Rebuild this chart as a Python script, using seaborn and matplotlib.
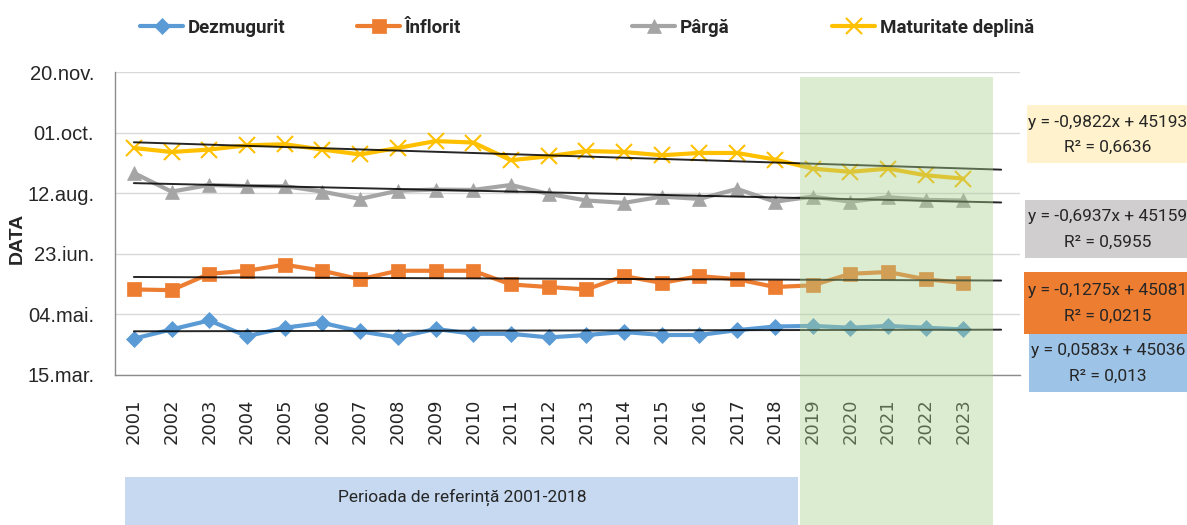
import matplotlib
matplotlib.use('Agg')
import matplotlib.pyplot as plt
import seaborn as sns
import pandas as pd
from matplotlib.patches import Rectangle

# date fenologice (numere seriale Excel, 45000 = 15.mar.)
ani = list(range(2001, 2024))
dezmugurit = [45030, 45037.6, 45045, 45032, 45039, 45043, 45036, 45031, 45038, 45034,
              45034, 45031, 45033, 45035.5, 45033, 45033, 45037, 45040, 45040.5, 45039,
              45040.5, 45039, 45037.6]
inflorit = [45070.6, 45070, 45083.5, 45086, 45091, 45086, 45079, 45086, 45086, 45086,
            45074.7, 45072.6, 45070.6, 45081.6, 45076, 45081.6, 45079, 45072.6, 45074, 45083.5,
            45085, 45079, 45076]
parga = [45166.7, 45151.3, 45156.8, 45155.8, 45155.8, 45151.3, 45145.3, 45152, 45153, 45152.7,
         45156.8, 45149.4, 45144, 45142, 45147.2, 45145.3, 45153.5, 45143, 45147.2, 45143,
         45146.7, 45144.5, 45144]
maturitate = [45187.3, 45184, 45186, 45189.5, 45190.4, 45186, 45182, 45187.3, 45193, 45191.8,
              45177.2, 45180.5, 45184.8, 45184, 45181.3, 45183.2, 45183.2, 45177.8, 45170.3, 45167.6,
              45170.3, 45164.8, 45162]

serii = ['Dezmugurit', 'Înflorit', 'Pârgă', 'Maturitate deplină']
culori = ['#5B9BD5', '#ED7D31', '#A5A5A5', '#FFC000']
markere = ['D', 's', '^', 'x']
marimi_marker = [8, 10, 10, 11]

# ecuatiile liniilor de tendinta (din Excel)
panta = [0.0583, -0.1275, -0.6937, -0.9822]
interceptie = [45036, 45081, 45159, 45193]
r2 = ['0,013', '0,0215', '0,5955', '0,6636']
culori_casete = ['#9DC3E6', '#ED7D31', '#D0CECE', '#FFF2CC']

y_ticks = [45000, 45050, 45100, 45150, 45200, 45250]
y_etichete = ['15.mar.', '04.mai.', '23.iun.', '12.aug.', '01.oct.', '20.nov.']

df = pd.DataFrame({'An': ani, 'Dezmugurit': dezmugurit, 'Înflorit': inflorit,
                   'Pârgă': parga, 'Maturitate deplină': maturitate})

sns.set_style('white')
plt.rcParams['font.family'] = ['DejaVu Sans']
ingust = ['Roboto', 'Liberation Sans', 'DejaVu Sans']

fig = plt.figure(figsize=(11.87, 5.25), dpi=100)
ax = fig.add_axes([115 / 1187, 150 / 525, 905 / 1187, 303 / 525])

handles = []
for nume, c, m, ms in zip(serii, culori, markere, marimi_marker):
    sns.lineplot(data=df, x='An', y=nume, ax=ax, color=c, marker=m, markersize=ms,
                 markeredgecolor=c, markeredgewidth=1.5 if m == 'x' else 0.5,
                 linewidth=3, label=nume, zorder=3)
    handles.append(ax.get_lines()[-1])

# linii de tendinta pe x = 1..24
for a, b in zip(panta, interceptie):
    xs = [ani[0], ani[0] + 23]
    ys = [a * 1 + b, a * 24 + b]
    ax.plot(xs, ys, color='black', lw=1.4, alpha=0.85, zorder=4)

ax.get_legend().remove()

ax.set_xlim(2000.5, 2024.5)
ax.set_ylim(45000, 45250)
ax.set_yticks(y_ticks)
ax.set_yticklabels(y_etichete, fontsize=14.5, family=['Liberation Sans', 'DejaVu Sans'])
ax.set_xticks([a - 0.5 for a in ani] + [2023.5])
ax.set_xticklabels([])
ax.set_xticks(ani, minor=True)
ax.set_xticklabels([str(a) for a in ani], minor=True, rotation=90, fontsize=13)
ax.tick_params(axis='x', which='major', direction='out', length=8, width=1, color='#8C8C8C')
ax.tick_params(axis='x', which='minor', length=0, pad=17)
ax.tick_params(axis='y', direction='out', length=6, width=1, color='#8C8C8C', pad=9)
ax.yaxis.grid(True, color='#D9D9D9', lw=1)
ax.xaxis.grid(False)
for s in ['top', 'right']:
    ax.spines[s].set_visible(False)
for s in ['left', 'bottom']:
    ax.spines[s].set_color('#8C8C8C')
    ax.spines[s].set_linewidth(1)
ax.set_xlabel('')
ax.set_ylabel('DATA', fontsize=14, fontweight='bold', family=['Liberation Sans', 'DejaVu Sans'])
ax.yaxis.set_label_coords(-0.099, 0.452)

# legenda
poz_leg = [140, 357, 632, 832]
for h, nume, px in zip(handles, serii, poz_leg):
    fig.legend(handles=[h], labels=[nume], loc='center left', bbox_to_anchor=(px / 1187, 497 / 525),
               frameon=False, handlelength=2.3, handletextpad=0.25, borderpad=0, borderaxespad=0,
               prop={'family': ingust, 'weight': 'bold', 'size': 13.5})

# perioada de referinta
fig.patches.append(Rectangle((125 / 1187, 0), 673 / 1187, 48 / 525, transform=fig.transFigure,
                             facecolor='#C6D9F1', edgecolor='none', zorder=1))
fig.text(462 / 1187, 28 / 525, 'Perioada de referință 2001-2018', ha='center', va='center',
         fontsize=12.5, family=ingust, zorder=2)
# zona 2019-2023
fig.patches.append(Rectangle((800 / 1187, 0), 193 / 1187, 448 / 525, transform=fig.transFigure,
                             facecolor='#A9D18E', edgecolor='none', alpha=0.4, zorder=5))

# casete cu ecuatii
casete = [(1029, 334, 392), (1024, 272, 334), (1025, 200, 258), (1027, 105, 163)]
for (x0, ysus, yjos), a, b, r, cc in zip(casete, panta, interceptie, r2, culori_casete):
    fig.patches.append(Rectangle((x0 / 1187, (525 - yjos) / 525), (1187 - x0) / 1187, (yjos - ysus) / 525,
                                 transform=fig.transFigure, facecolor=cc, edgecolor='none', zorder=1))
    semn = '-' if a < 0 else ''
    ec = f'y = {semn}{abs(a):.4f}'.replace('.', ',') + f'x + {b}'
    ym = (ysus + yjos) / 2
    fig.text(1108 / 1187, (525 - ym + 12) / 525, ec, ha='center', va='center', fontsize=12.5,
             family=ingust, zorder=2)
    fig.text(1108 / 1187, (525 - ym - 13) / 525, f'R² = {r}', ha='center', va='center', fontsize=12.5,
             family=ingust, zorder=2)

fig.savefig('out.png', dpi=100)
